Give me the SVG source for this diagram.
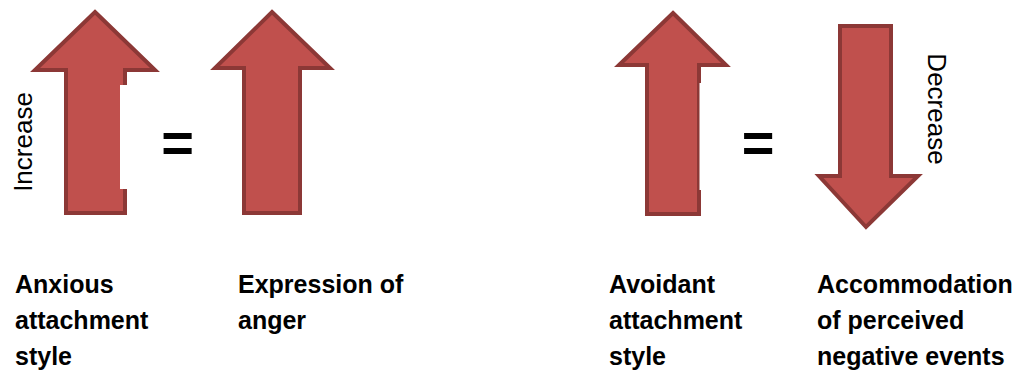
<svg xmlns="http://www.w3.org/2000/svg" width="1024" height="381" viewBox="0 0 1024 381">
  <style>
    .arrow { fill: #C0504D; stroke: #8C3836; stroke-width: 4; stroke-linejoin: miter; }
    .label { font-family: "Liberation Sans", Arial, sans-serif; font-weight: bold; font-size: 25px; fill: #000; }
    .dir { font-family: "Liberation Sans", Arial, sans-serif; font-size: 26px; fill: #000; }
    .eq { font-family: "Liberation Sans", Arial, sans-serif; font-weight: bold; font-size: 56px; fill: #000; text-anchor: middle; }
    .mask { fill: #FFFFFF; }
  </style>
  <rect width="1024" height="381" fill="#FFFFFF"/>

  <g id="arrow-anxious">
    <path class="arrow" d="M95,12 L155,70 L125,70 L125,213 L66,213 L66,70 L35,70 Z"/>
    <rect class="mask" x="120" y="85" width="10" height="104"/>
    <text class="dir" transform="translate(32,142) rotate(-90)" text-anchor="middle">Increase</text>
  </g>

  <g id="equals-1">
    <text class="eq" x="177.5" y="162">=</text>
  </g>

  <g id="arrow-anger">
    <path class="arrow" d="M272,12 L330,68 L300,68 L300,213 L244,213 L244,68 L215,68 Z"/>
  </g>

  <g id="arrow-avoidant">
    <path class="arrow" d="M673,13 L726,65 L699,65 L699,214 L647,214 L647,65 L619,65 Z"/>
    <rect class="mask" x="699.5" y="83" width="4" height="107"/>
  </g>

  <g id="equals-2">
    <text class="eq" x="758" y="162">=</text>
  </g>

  <g id="arrow-accommodation">
    <path class="arrow" d="M840,26 L891,26 L891,176 L918,176 L866,227 L819,176 L840,176 Z"/>
    <text class="dir" transform="translate(928,109) rotate(90)" text-anchor="middle">Decrease</text>
  </g>

  <g id="connectors"></g>

  <g id="label-anxious">
    <text class="label" x="15" y="293">Anxious</text>
    <text class="label" x="15" y="329">attachment</text>
    <text class="label" x="15" y="365">style</text>
  </g>
  <g id="label-anger">
    <text class="label" x="238" y="293">Expression of</text>
    <text class="label" x="238" y="329">anger</text>
  </g>
  <g id="label-avoidant">
    <text class="label" x="609" y="293">Avoidant</text>
    <text class="label" x="609" y="329">attachment</text>
    <text class="label" x="609" y="365">style</text>
  </g>
  <g id="label-accommodation">
    <text class="label" x="817" y="293">Accommodation</text>
    <text class="label" x="817" y="329">of perceived</text>
    <text class="label" x="817" y="365">negative events</text>
  </g>
</svg>
